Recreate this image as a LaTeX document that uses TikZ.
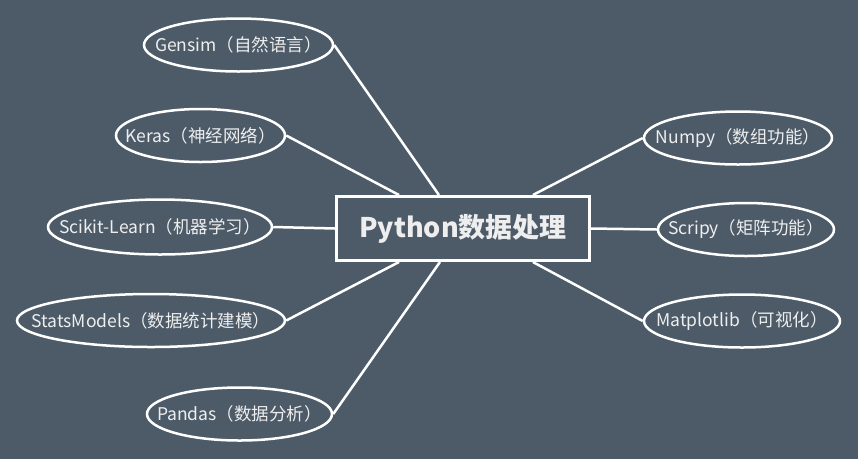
\documentclass[tikz,border=0pt]{standalone}
\usepackage{fontspec}
\setmainfont{Noto Sans CJK SC}
\usetikzlibrary{shapes.geometric,calc}
\definecolor{bg}{HTML}{4D5B69}
\definecolor{txt}{HTML}{EEEEEE}
\newcommand{\zw}[1]{\makebox[0pt]{#1}}
\begin{document}
\begin{tikzpicture}[x=1pt,y=-1pt,
  leaf/.style={ellipse,draw=white,line width=2.5pt,text=txt,font=\fontsize{17.5}{20}\selectfont,inner sep=0pt,minimum height=53pt},
  link/.style={draw=white,line width=2.5pt},
  hub/.style={rectangle,draw=white,line width=3pt,text=txt,font=\fontsize{27}{30}\selectfont\bfseries,inner sep=0pt,minimum width=253pt,minimum height=64pt}]
\fill[bg] (0,0) rectangle (858,459);
\useasboundingbox (0,0) rectangle (858,459);
\node[hub] (box) at (463,228.5) {\zw{Python数据处理}};
\node[leaf,minimum width=189pt] (gensim) at (238.5,45) {\zw{Gensim（自然语言）}};
\node[leaf,minimum width=169pt] (keras) at (200.5,135.5) {\zw{Keras（神经网络）}};
\node[leaf,minimum width=224pt,minimum height=55pt] (scikit) at (160,227) {\zw{Scikit-Learn（机器学习）}};
\node[leaf,minimum width=268pt] (stats) at (151,320.5) {\zw{StatsModels（数据统计建模）}};
\node[leaf,minimum width=185pt] (pandas) at (239.5,414) {\zw{Pandas（数据分析）}};
\node[leaf,minimum width=188pt] (numpy) at (738,138) {\zw{Numpy（数组功能）}};
\node[leaf,minimum width=176pt] (scripy) at (746,229.5) {\zw{Scripy（矩阵功能）}};
\node[leaf,minimum width=196pt] (matplot) at (742,321) {\zw{Matplotlib（可视化）}};
\coordinate (tg) at ($(box.north west)!0.406!(box.north east)$);
\coordinate (tk) at ($(box.north west)!0.25!(box.north east)$);
\coordinate (tn) at ($(box.north west)!0.773!(box.north east)$);
\coordinate (bs) at ($(box.south west)!0.25!(box.south east)$);
\coordinate (bp) at ($(box.south west)!0.41!(box.south east)$);
\coordinate (bm) at ($(box.south west)!0.773!(box.south east)$);
\draw[link] (gensim.east) -- (tg);
\draw[link] (keras.east) -- (tk);
\draw[link] (scikit.east) -- (box.west);
\draw[link] (stats.east) -- (bs);
\draw[link] (pandas.east) -- (bp);
\draw[link] (numpy.west) -- (tn);
\draw[link] (scripy.west) -- (box.east);
\draw[link] (matplot.west) -- (bm);
\end{tikzpicture}
\end{document}
